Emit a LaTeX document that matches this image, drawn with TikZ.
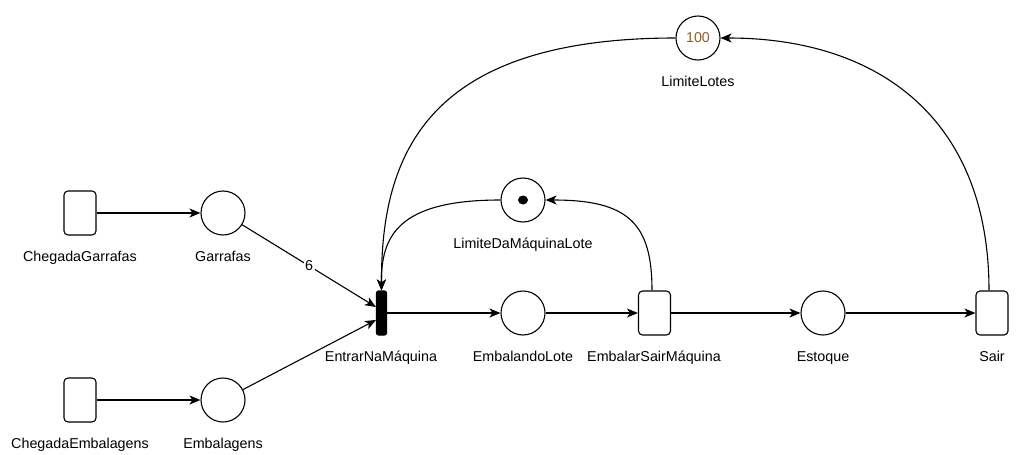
\documentclass[tikz,border=0pt]{standalone}
\usepackage{fontspec}
\setmainfont{Liberation Sans}
\usetikzlibrary{arrows.meta}
\definecolor{tokbrown}{RGB}{143,94,38}
\begin{document}
\begin{tikzpicture}[x=1pt,y=-1pt,
  every node/.style={font=\fontsize{14.3}{17}\selectfont},
  place/.style={draw, circle, minimum size=44pt, inner sep=0pt, line width=1.1pt},
  trans/.style={draw, rounded corners=4pt, minimum width=32pt, minimum height=44pt, inner sep=0pt, line width=1.1pt},
  bar/.style={draw, fill=black, rounded corners=2pt, minimum width=10pt, minimum height=44pt, inner sep=0pt, line width=1.1pt},
  lbl/.style={anchor=base, inner sep=0pt},
  arc/.style={line width=1.1pt, -{Stealth[length=11pt,width=9pt,inset=3pt]}},
]
\useasboundingbox[fill=white] (0,0) rectangle (1023,455);

\node[trans] (cg) at (80,213) {};
\node[lbl] (cgl) at (80,261) {ChegadaGarrafas};
\node[place] (g) at (223,213) {};
\node[lbl] (gl) at (223,261) {Garrafas};
\node[trans] (ce) at (80,400) {};
\node[lbl] (cel) at (80,448) {ChegadaEmbalagens};
\node[place] (e) at (223,400) {};
\node[lbl] (eml) at (223,448) {Embalagens};
\node[bar] (en) at (381.5,313) {};
\node[lbl] (enl) at (381,361) {EntrarNaMáquina};
\node[place] (el) at (523,313) {};
\node[lbl] (ell) at (523,361) {EmbalandoLote};
\node[trans] (es) at (654.5,313) {};
\node[lbl] (esl) at (654,361) {EmbalarSairMáquina};
\node[place] (st) at (823,313) {};
\node[lbl] (stl) at (823,361) {Estoque};
\node[trans] (sa) at (992,313) {};
\node[lbl] (sal) at (992,361) {Sair};
\node[place] (lm) at (523,200) {};
\node[lbl] (lml) at (523,248) {LimiteDaMáquinaLote};
\node[place, text=tokbrown] (ll) at (698,38) {100};
\node[lbl] (lll) at (698,86) {LimiteLotes};
\fill (lm.center) ellipse (5pt and 4.5pt);

\coordinate (enG) at ([yshift=6pt]en.west);
\coordinate (enE) at ([yshift=-7pt]en.west);

\draw[arc] (cg) -- (g);
\draw[arc] (ce) -- (e);
\draw[arc] (g) -- node[fill=white, inner sep=1.5pt] {6} (enG);
\draw[arc] (e) -- (enE);
\draw[arc] (en) -- (el);
\draw[arc] (el) -- (es);
\draw[arc] (es) -- (st);
\draw[arc] (st) -- (sa);

\draw[arc] ([xshift=-3pt]sa.north) .. controls (989,120) and (880,38) .. (ll.east);
\draw[arc] (ll.west) .. controls (427,38) and (381,154) .. (en.north);
\draw[arc] (lm.west) .. controls (398,200) and (381,236) .. (en.north);
\draw[arc] ([xshift=-2.5pt]es.north) .. controls (652,223) and (628,200) .. (lm.east);
\end{tikzpicture}
\end{document}
